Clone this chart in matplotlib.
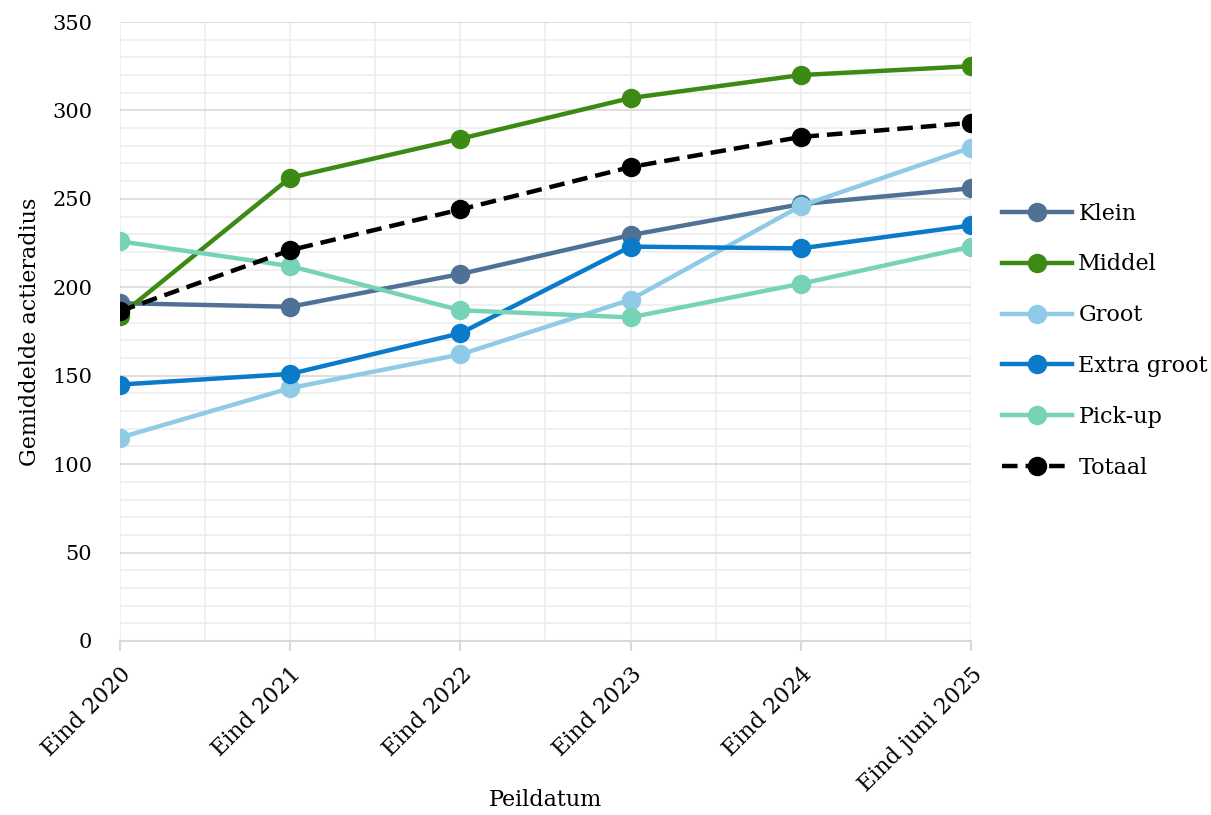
import matplotlib.pyplot as plt
from matplotlib.ticker import MultipleLocator

plt.rcParams['font.family'] = ['DejaVu Serif']

# data
peildata = ['Eind 2020', 'Eind 2021', 'Eind 2022', 'Eind 2023', 'Eind 2024', 'Eind juni 2025']
klein = [191, 189, 207.5, 229.5, 247, 256]
middel = [184, 262, 284, 307, 320, 325]
groot = [115, 143, 162, 193, 246, 279]
extra_groot = [145, 151, 174, 223, 222, 235]
pick_up = [226, 212, 187, 183, 202, 223]
totaal = [186.5, 221, 244, 268, 285, 293]

series = [
    ('Klein', klein, '#507196', '-'),
    ('Middel', middel, '#3c8a13', '-'),
    ('Groot', groot, '#8fcbe7', '-'),
    ('Extra groot', extra_groot, '#0a7bc9', '-'),
    ('Pick-up', pick_up, '#76d3b7', '-'),
    ('Totaal', totaal, '#000000', '--'),
]

fig = plt.figure(figsize=(12.11, 8.15), dpi=100)
ax = fig.add_axes([0.0991, 0.2135, 0.7027, 0.7595])

x = list(range(len(peildata)))
for name, vals, col, ls in series:
    line, = ax.plot(x, vals, color=col, lw=3.2, ls=ls, marker='o', ms=13,
                    label=name, zorder=3)
    if ls == '--':
        line.set_dashes((3.5, 1.8))

ax.set_xlim(0, len(peildata) - 1)
ax.set_ylim(0, 350)
ax.yaxis.set_major_locator(MultipleLocator(50))
ax.yaxis.set_minor_locator(MultipleLocator(10))
ax.xaxis.set_minor_locator(MultipleLocator(0.5))
ax.set_xticks(x)
ax.set_xticklabels(peildata, rotation=45, ha='right', rotation_mode='anchor')

ax.grid(True, which='major', axis='y', color='#d9d9d9', lw=1.2)
ax.grid(True, which='minor', axis='y', color='#eeeeee', lw=1.2)
ax.grid(True, which='both', axis='x', color='#eeeeee', lw=1.2)
ax.set_axisbelow(True)

for s in ['top', 'right', 'left']:
    ax.spines[s].set_visible(False)
ax.spines['bottom'].set_color('#d9d9d9')
ax.spines['bottom'].set_linewidth(1.5)

ax.tick_params(axis='y', which='both', length=0, pad=20, labelsize=15)
ax.tick_params(axis='x', which='major', length=7, color='#d9d9d9', width=1.5,
               pad=9, labelsize=16)
ax.tick_params(axis='x', which='minor', length=0)

ax.set_ylabel('Gemiddelde actieradius', fontsize=16, labelpad=8)
ax.set_xlabel('Peildatum', fontsize=16, va='center')
ax.xaxis.set_label_coords(0.5, -0.257)

ax.legend(loc='center left', bbox_to_anchor=(1.036, 0.485), frameon=False,
          fontsize=16, handlelength=3.15, labelspacing=1.3, handletextpad=0.3,
          borderpad=0, borderaxespad=0)

fig.savefig('out.png', dpi=100)
